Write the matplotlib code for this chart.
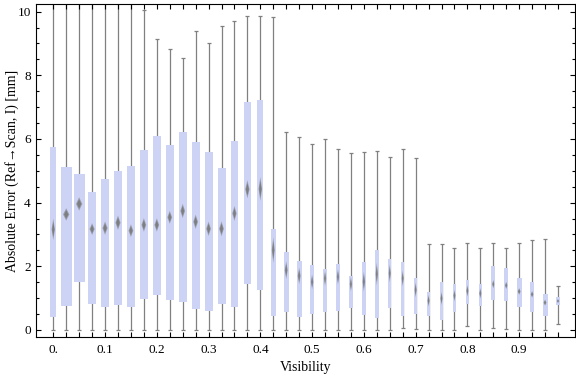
import matplotlib
matplotlib.use("Agg")
import matplotlib.pyplot as plt
from matplotlib.patches import Rectangle, Polygon
from matplotlib.ticker import FixedLocator, MultipleLocator

plt.rcParams["font.family"] = ["Liberation Serif", "DejaVu Serif"]

# ---- data ----
visibility = [round(0.025 * i, 3) for i in range(40)]
whisker_lo = [0, 0, 0, 0, 0, 0, 0, 0, 0, 0,
              0, 0, 0, 0, 0, 0, 0, 0, 0, 0,
              0, 0, 0, 0, 0, 0, 0, 0.05, 0.02, 0,
              0, 0, 0.13, 0, 0.05, 0.02, 0, 0, 0, 0.19]
q1 = [0.42, 0.76, 1.52, 0.83, 0.73, 0.79, 0.71, 0.97, 1.10, 0.95,
      0.88, 0.66, 0.60, 0.82, 0.73, 1.44, 1.27, 0.45, 0.57, 0.42,
      0.51, 0.57, 0.61, 0.70, 0.47, 0.39, 0.70, 0.45, 0.51, 0.45,
      0.30, 0.57, 0.83, 0.76, 0.95, 0.92, 0.73, 0.57, 0.45, 0.79]
median = [3.16, 3.63, 3.96, 3.17, 3.20, 3.37, 3.12, 3.30, 3.30, 3.54,
          3.74, 3.40, 3.18, 3.18, 3.66, 4.42, 4.43, 2.51, 1.88, 1.70,
          1.51, 1.62, 1.67, 1.44, 1.52, 1.76, 1.78, 1.62, 1.26, 0.92,
          0.99, 1.08, 1.23, 1.15, 1.44, 1.40, 1.21, 1.12, 0.86, 0.91]
q3 = [5.75, 5.12, 4.90, 4.33, 4.74, 4.99, 5.15, 5.64, 6.09, 5.81,
      6.22, 5.90, 5.59, 5.09, 5.93, 7.16, 7.22, 3.17, 2.45, 2.17,
      2.03, 1.92, 2.06, 1.70, 2.13, 2.51, 2.23, 2.13, 1.63, 1.19,
      1.51, 1.44, 1.57, 1.44, 2.01, 1.95, 1.63, 1.51, 1.13, 1.04]
whisker_hi = [10.8, 10.8, 10.8, 10.8, 10.8, 10.8, 10.8, 10.06, 9.13, 8.84,
              8.53, 9.38, 9.03, 9.54, 9.72, 9.86, 9.86, 9.82, 6.21, 6.06,
              5.83, 5.99, 5.67, 5.55, 5.58, 5.61, 5.42, 5.67, 5.39, 2.69,
              2.69, 2.57, 2.72, 2.57, 2.74, 2.58, 2.72, 2.83, 2.86, 1.38]
# spread of the median marker (full height, mm)
median_spread = [0.68, 0.39, 0.42, 0.37, 0.42, 0.45, 0.40, 0.43, 0.42, 0.41,
                 0.45, 0.45, 0.45, 0.47, 0.47, 0.57, 0.75, 0.81, 0.56, 0.52,
                 0.47, 0.48, 0.49, 0.45, 0.63, 0.72, 0.57, 0.50, 0.47, 0.37,
                 0.42, 0.37, 0.37, 0.34, 0.27, 0.23, 0.21, 0.21, 0.19, 0.13]

# box widths in pixels as drawn in the reference
box_w_px = [5.7, 10.7, 10.7, 8.7, 8.7, 8.7, 8.0, 8.0, 8.0, 8.0,
            8.0, 8.0, 8.0, 8.0, 7.3, 7.3, 6.0, 5.0, 5.0, 5.0,
            4.3, 4.0, 4.0, 4.0, 4.3, 4.0, 3.0, 3.3, 3.3, 3.3,
            3.3, 3.3, 3.3, 3.3, 3.7, 4.3, 5.0, 4.7, 5.0, 4.0]

major_x = [0.0, 0.1, 0.2, 0.3, 0.4, 0.5, 0.6, 0.7, 0.8, 0.9]
major_x_labels = ["0.", "0.1", "0.2", "0.3", "0.4", "0.5", "0.6", "0.7", "0.8", "0.9"]

BOX = "#ccd3f4"
WHISK = "#808080"
DIAM = "#7a7a7a"

W, H = 576, 377
fig = plt.figure(figsize=(W / 100, H / 100), dpi=100)
ax_l, ax_r, ax_t, ax_b = 36.3, 574.7, 4.0, 337.0
ax = fig.add_axes([ax_l / W, (H - ax_b) / H, (ax_r - ax_l) / W, (ax_b - ax_t) / H])

xmin, xmax = -0.0328, 1.0073
ymin, ymax = -0.22, 10.24
ax.set_xlim(xmin, xmax)
ax.set_ylim(ymin, ymax)
px_x = (ax_r - ax_l) / (xmax - xmin)   # pixels per x unit

cap = 2.0 / px_x
for i, x in enumerate(visibility):
    ax.vlines(x, whisker_lo[i], whisker_hi[i], color=WHISK, lw=0.9, zorder=1)
    ax.hlines([whisker_lo[i], whisker_hi[i]], x - cap, x + cap, color=WHISK, lw=0.9, zorder=1)
    bw = box_w_px[i] / px_x
    ax.add_patch(Rectangle((x - bw / 2, q1[i]), bw, q3[i] - q1[i],
                           facecolor=BOX, edgecolor="none", zorder=2))
    dw = max(0.6 * box_w_px[i], 2.2) / px_x
    dh = median_spread[i] / 2
    m = median[i]
    ax.add_patch(Polygon([(x - dw / 2, m), (x, m + dh), (x + dw / 2, m), (x, m - dh)],
                         closed=True, facecolor=DIAM, edgecolor="none", alpha=0.55, zorder=3))
    ax.add_patch(Polygon([(x - dw / 3, m), (x, m + dh * 0.7), (x + dw / 3, m), (x, m - dh * 0.7)],
                         closed=True, facecolor=DIAM, edgecolor="none", alpha=0.9, zorder=4))

ax.xaxis.set_major_locator(FixedLocator(major_x))
ax.set_xticklabels(major_x_labels)
ax.xaxis.set_minor_locator(FixedLocator(visibility))
ax.yaxis.set_major_locator(MultipleLocator(2))
ax.yaxis.set_minor_locator(MultipleLocator(0.5))

ax.tick_params(axis="x", which="both", direction="in", top=True, length=3.4,
               width=0.8, labelsize=9.5, pad=5)
ax.tick_params(axis="y", which="major", direction="in", right=True, length=3.6,
               width=0.8, labelsize=9.5, pad=4)
ax.tick_params(axis="y", which="minor", direction="in", right=True, length=2.2, width=0.8)
for s in ax.spines.values():
    s.set_linewidth(0.8)

ax.set_xlabel("Visibility", fontsize=10, labelpad=4)
ax.set_ylabel("Absolute Error (Ref\u2192Scan, I) [mm]", fontsize=10)
ax.yaxis.set_label_coords(-0.033, 0.5)

fig.savefig("out.png", dpi=100)
